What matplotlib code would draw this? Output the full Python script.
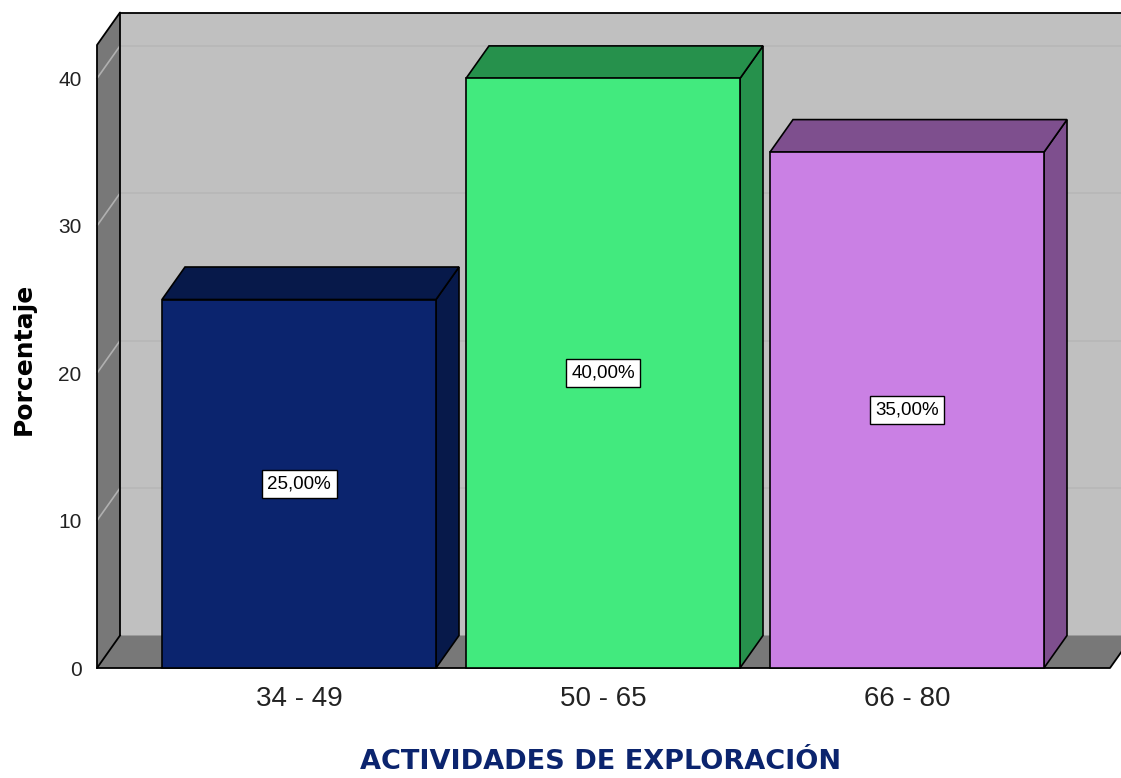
import numpy as np
import matplotlib.pyplot as plt
from matplotlib.patches import Polygon

# datos
categorias = ['34 - 49', '50 - 65', '66 - 80']
porcentajes = [25.0, 40.0, 35.0]
etiquetas = ['25,00%', '40,00%', '35,00%']
yticks = [0, 10, 20, 30, 40]

col_frente = ['#0b246e', '#42ea7e', '#ca80e4']
col_lado = ['#07194a', '#26914c', '#7e4f8e']

fuente_n = ['Liberation Sans Narrow', 'Liberation Sans', 'DejaVu Sans']

W, H = 1121, 778
fig = plt.figure(figsize=(W / 100, H / 100), dpi=100)

# ejes (pixeles de la imagen)
px_l, px_r, px_b, px_t = 97, 1110, 668, 45
ax = fig.add_axes([px_l / W, 1 - px_b / H, (px_r - px_l) / W, (px_b - px_t) / H])
paso = 304.0
x0 = -(299 - px_l) / paso
x1 = (px_r - 299) / paso
ytop = (px_b - px_t) / 14.74
ax.set_xlim(x0, x1)
ax.set_ylim(0, ytop)
ancho = 274 / paso
ddx = 23 / paso      # profundidad 3D
ddy = 32.5 / 14.74

for s in ax.spines.values():
    s.set_visible(False)
ax.patch.set_visible(False)

negro = dict(color='black', lw=1.3, clip_on=False)

# pared del fondo
xr_fondo = x1 + 0.2
fondo = Polygon([(x0 + ddx, ddy), (xr_fondo, ddy), (xr_fondo, ytop + ddy), (x0 + ddx, ytop + ddy)],
                closed=True, fc='#c0c0c0', ec='none', clip_on=False, zorder=1)
ax.add_patch(fondo)
for v in yticks[1:]:
    ax.plot([x0 + ddx, xr_fondo], [v + ddy, v + ddy], color='#b6b6b6', lw=1.1, clip_on=False, zorder=1.5)
ax.plot([x0 + ddx, xr_fondo], [ytop + ddy, ytop + ddy], zorder=1.6, **negro)

# pared izquierda
izq = Polygon([(x0, 0), (x0 + ddx, ddy), (x0 + ddx, ytop + ddy), (x0, ytop)],
              closed=True, fc='#787878', ec='none', clip_on=False, zorder=2)
ax.add_patch(izq)
for v in yticks[1:]:
    ax.plot([x0, x0 + ddx], [v, v + ddy], color='#b0b0b0', lw=1.2, clip_on=False, zorder=2.5)
ax.plot([x0, x0, x0 + ddx, x0 + ddx], [0, ytop, ytop + ddy, ddy], zorder=2.6, **negro)

# piso
piso = Polygon([(x0, 0), (x1, 0), (x1 + ddx, ddy), (x0 + ddx, ddy)],
               closed=True, fc='#787878', ec='none', clip_on=False, zorder=3)
ax.add_patch(piso)
ax.plot([x0 + ddx, x0, x1, x1 + ddx], [ddy, 0, 0, ddy], zorder=3.5, **negro)

# barras 3D
xs = np.arange(len(categorias))
for i, (x, v) in enumerate(zip(xs, porcentajes)):
    xl, xr = x - ancho / 2, x + ancho / 2
    lado = Polygon([(xr, 0), (xr + ddx, ddy), (xr + ddx, v + ddy), (xr, v)],
                   closed=True, fc=col_lado[i], ec='black', lw=1.2, zorder=4, clip_on=False)
    tapa = Polygon([(xl, v), (xr, v), (xr + ddx, v + ddy), (xl + ddx, v + ddy)],
                   closed=True, fc=col_lado[i], ec='black', lw=1.2, zorder=4, clip_on=False)
    ax.add_patch(lado)
    ax.add_patch(tapa)
ax.bar(xs, porcentajes, width=ancho, color=col_frente, edgecolor='black', linewidth=1.2,
       zorder=5, clip_on=False)

for x, v, t in zip(xs, porcentajes, etiquetas):
    ax.text(x, v / 2, t, ha='center', va='center', fontsize=13.5, family=fuente_n, zorder=6,
            bbox=dict(boxstyle='square,pad=0.3', fc='white', ec='black', lw=1))

ax.set_yticks(yticks)
ax.set_yticklabels([str(v) for v in yticks], fontsize=15, family=fuente_n, color='#222222')
ax.set_xticks(xs)
ax.set_xticklabels(categorias, fontsize=20, family=fuente_n, color='#222222')
ax.tick_params(axis='y', length=0, pad=11)
ax.tick_params(axis='x', length=0, pad=13)

fig.text(24 / W, 1 - 359 / H, 'Porcentaje', rotation=90, ha='center', va='center',
         fontsize=18, fontweight='bold', family='DejaVu Sans')
fig.text(601 / W, 1 - 769 / H, 'ACTIVIDADES DE EXPLORACIÓN', ha='center', va='baseline',
         fontsize=19.5, fontweight='bold', family='DejaVu Sans', color='#0b246e')

fig.savefig('out.png', dpi=100)
